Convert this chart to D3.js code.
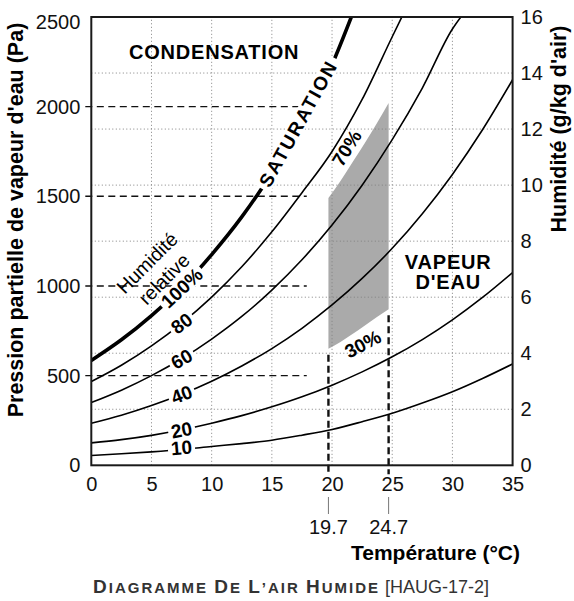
<!DOCTYPE html>
<html>
<head>
<meta charset="utf-8">
<script src="https://cdn.jsdelivr.net/npm/d3@7"></script>
<style>
  body { margin: 0; background: #fff; }
  svg { display: block; font-family: "Liberation Sans", Arial, Helvetica, sans-serif; }
</style>
</head>
<body>
<svg id="chart" width="574" height="601"></svg>
<script>
// Axis ticks
const tempTicks = [0, 5, 10, 15, 20, 25, 30, 35];
const pressTicks = [0, 500, 1000, 1500, 2000, 2500];
const humTicks = [0, 2, 4, 6, 8, 10, 12, 14, 16];
const gridT = [5, 10, 15, 20, 25, 30];
const gridHum = [2, 4, 6, 8, 10, 12, 14];

// Dashed reference levels (Pa), drawn from the axis to ~17.9 °C
const refLevels = [500, 1000, 1500, 2000];
const refEnd = 17.9;

// Relative humidity curves (°C, Pa)
const rh100T = [0, 2.5, 5, 7.5, 10, 12.5, 15, 17.5, 20, 21.6];
const rh100P = [585, 700, 835, 990, 1175, 1385, 1630, 1910, 2235, 2500];
const rh80T = [0, 2.5, 5, 7.5, 10, 12.5, 15, 17.5, 20, 22.5, 25, 25.8];
const rh80P = [467, 558, 666, 792, 938, 1107, 1302, 1520, 1750, 2040, 2390, 2500];
const rh60T = [0, 2.5, 5, 7.5, 10, 12.5, 15, 17.5, 20, 22.5, 25, 27.5, 30, 30.7];
const rh60P = [350, 419, 500, 594, 704, 830, 977, 1146, 1340, 1562, 1816, 2104, 2433, 2500];
const rh40T = [0, 2.5, 5, 7.5, 10, 12.5, 15, 17.5, 20, 22.5, 25, 27.5, 30, 32.5, 35];
const rh40P = [234, 279, 333, 396, 469, 554, 651, 764, 894, 1042, 1210, 1403, 1622, 1871, 2150];
const rh20T = [0, 2.5, 5, 7.5, 10, 12.5, 15, 17.5, 20, 22.5, 25, 27.5, 30, 32.5, 35];
const rh20P = [125, 143, 167, 198, 235, 277, 326, 382, 447, 521, 605, 701, 811, 936, 1075];
const rh10T = [0, 2.5, 5, 7.5, 10, 12.5, 15, 17.5, 20, 22.5, 25, 27.5, 30, 32.5, 35];
const rh10P = [55, 64, 75, 88, 105, 121, 140, 168, 200, 243, 290, 347, 410, 484, 565];
const curveNames = ["100%", "80", "60", "40", "20", "10"];
const labelT = 7.5;

// Comfort zone (grey), between ~30% and ~70%
const zoneT = [19.7, 20.7, 21.7, 22.7, 23.7, 24.7];
const zoneHigh = [1490, 1585, 1690, 1795, 1905, 2020];
const zoneLow = [650, 688, 732, 778, 825, 870];
const markT = [19.7, 24.7];

const font = '"Liberation Sans", Arial, Helvetica, sans-serif';
const svg = d3.select("#chart");

const x = d3.scaleLinear().domain([0, 35]).range([91.3, 512.6]);
const y = d3.scaleLinear().domain([0, 2500]).range([465.3, 17]);
const y2 = d3.scaleLinear().domain([0, 16]).range([465.3, 17]);

svg.append("clipPath").attr("id", "plot")
  .append("rect")
  .attr("x", x(0)).attr("y", y(2500))
  .attr("width", x(35) - x(0)).attr("height", y(0) - y(2500));

// grey zone
const zoneData = zoneT.map((t, i) => ({ t: t, hi: zoneHigh[i], lo: zoneLow[i] }));
svg.append("path")
  .datum(zoneData)
  .attr("fill", "#aaaaaa")
  .attr("d", d3.area().x(d => x(d.t)).y0(d => y(d.lo)).y1(d => y(d.hi)).curve(d3.curveMonotoneX));

// dotted grid
svg.append("g").selectAll("line").data(gridT).join("line")
  .attr("x1", d => x(d)).attr("x2", d => x(d))
  .attr("y1", y(0)).attr("y2", y(2500))
  .attr("stroke", "#808080").attr("stroke-width", 1).attr("stroke-dasharray", "1,2.5");
svg.append("g").selectAll("line").data(gridHum).join("line")
  .attr("x1", x(0)).attr("x2", x(35))
  .attr("y1", d => y2(d)).attr("y2", d => y2(d))
  .attr("stroke", "#808080").attr("stroke-width", 1).attr("stroke-dasharray", "1,2.5");

// dashed reference lines
svg.append("g").selectAll("line").data(refLevels).join("line")
  .attr("x1", x(0) - 6).attr("x2", x(refEnd))
  .attr("y1", d => y(d)).attr("y2", d => y(d))
  .attr("stroke", "#111").attr("stroke-width", 1.4).attr("stroke-dasharray", "7,4.5");

// vertical marks at 19.7 and 24.7
svg.append("g").selectAll("line").data(markT).join("line")
  .attr("x1", d => x(d)).attr("x2", d => x(d))
  .attr("y1", (d, i) => y(i === 0 ? zoneLow[0] : zoneLow[zoneLow.length - 1]) + 6)
  .attr("y2", y(0) + 9)
  .attr("stroke", "#111").attr("stroke-width", 2.4).attr("stroke-dasharray", "7,4");

// curves
const curveT = [rh100T, rh80T, rh60T, rh40T, rh20T, rh10T];
const curveP = [rh100P, rh80P, rh60P, rh40P, rh20P, rh10P];
const line = d3.line().x(d => x(d[0])).y(d => y(d[1])).curve(d3.curveMonotoneX);

const gCurves = svg.append("g").attr("clip-path", "url(#plot)");
curveT.forEach((ts, k) => {
  gCurves.append("path")
    .datum(ts.map((t, i) => [t, curveP[k][i]]))
    .attr("fill", "none")
    .attr("stroke", "#000")
    .attr("stroke-width", k === 0 ? 3.6 : 1.6)
    .attr("d", line);
});

// label on a white patch, rotated
function tag(txt, px, py, angle, opts) {
  const o = Object.assign({ size: 19, weight: "bold", pad: 3, bg: true, ls: 0, dy: 0 }, opts || {});
  const g = svg.append("g").attr("transform", `translate(${px},${py}) rotate(${angle})`);
  const t = g.append("text")
    .attr("text-anchor", "middle")
    .attr("y", o.dy)
    .attr("dy", "0.36em")
    .attr("font-size", o.size)
    .attr("font-weight", o.weight)
    .attr("letter-spacing", o.ls)
    .attr("fill", "#000")
    .text(txt);
  if (o.bg) {
    const bb = t.node().getBBox();
    g.insert("rect", "text")
      .attr("x", bb.x - o.pad).attr("y", bb.y + 2)
      .attr("width", bb.width + 2 * o.pad).attr("height", bb.height - 4)
      .attr("fill", "#fff");
  }
  return g;
}

// curve labels at 7.5 °C, following the slope
curveNames.forEach((name, k) => {
  const ts = curveT[k], ps = curveP[k];
  const i = ts.indexOf(labelT);
  const ang = Math.atan2(y(ps[i + 1]) - y(ps[i - 1]), x(ts[i + 1]) - x(ts[i - 1])) * 180 / Math.PI;
  tag(name, x(ts[i]), y(ps[i]), ang * 0.95, { dy: k === 5 ? -2 : 0 });
});

// SATURATION along the thick curve
{
  const tS = 17.4;
  const pS = d3.interpolateNumber(rh100P[6], rh100P[7])((tS - 15) / 2.5);
  const ang = Math.atan2(y(rh100P[8]) - y(rh100P[6]), x(rh100T[8]) - x(rh100T[6])) * 180 / Math.PI;
  tag("SATURATION", x(tS), y(pS), ang, { ls: 2, dy: -3, pad: 4 });
}

// zone labels
tag("70%", x(21.2), y(1770), -58, { size: 19, bg: false });
tag("30%", x(22.55), y(677), -28, { size: 19, bg: false });

// Humidité relative
tag("Humidité", x(4.62), y(1129), -45, { size: 19.5, weight: "normal", bg: false });
tag("relative", x(6.03), y(1040), -45, { size: 19.5, weight: "normal", bg: false });

// region labels
svg.append("text")
  .attr("x", x(10.2)).attr("y", y(2308)).attr("dy", "0.36em")
  .attr("text-anchor", "middle").attr("font-size", 20).attr("font-weight", "bold")
  .attr("letter-spacing", 0.8).text("CONDENSATION");
svg.append("text")
  .attr("x", x(29.65)).attr("y", y(1136)).attr("dy", "0.36em")
  .attr("text-anchor", "middle").attr("font-size", 20).attr("font-weight", "bold")
  .attr("letter-spacing", 0.8).text("VAPEUR");
svg.append("text")
  .attr("x", x(29.65)).attr("y", y(1136) + 20).attr("dy", "0.36em")
  .attr("text-anchor", "middle").attr("font-size", 20).attr("font-weight", "bold")
  .attr("letter-spacing", 0.8).text("D'EAU");

// frame
svg.append("rect")
  .attr("x", x(0)).attr("y", y(2500))
  .attr("width", x(35) - x(0)).attr("height", y(0) - y(2500))
  .attr("fill", "none").attr("stroke", "#1a1a1a").attr("stroke-width", 2);

// axes
const axL = svg.append("g").attr("transform", `translate(${x(0)},0)`)
  .call(d3.axisLeft(y).tickValues(pressTicks).tickFormat(d3.format("d")).tickSize(0).tickPadding(11));
const axR = svg.append("g").attr("transform", `translate(${x(35)},0)`)
  .call(d3.axisRight(y2).tickValues(humTicks).tickFormat(d3.format("d")).tickSize(0).tickPadding(8));
const axB = svg.append("g").attr("transform", `translate(0,${y(0)})`)
  .call(d3.axisBottom(x).tickValues(tempTicks).tickFormat(d3.format("d")).tickSize(0).tickPadding(12));
[axL, axR, axB].forEach(a => {
  a.select(".domain").remove();
  a.selectAll("text").attr("font-size", 20).attr("fill", "#111").attr("font-family", font);
});
// top label sits a little lower in the original
axL.selectAll(".tick text").filter(d => d === 2500).attr("y", 5);

// marked temperatures below the axis
svg.append("g").selectAll("line").data(markT).join("line")
  .attr("x1", d => x(d)).attr("x2", d => x(d))
  .attr("y1", 497).attr("y2", 514)
  .attr("stroke", "#777").attr("stroke-width", 1);
svg.append("g").selectAll("text").data(markT).join("text")
  .attr("x", d => x(d)).attr("y", 527).attr("dy", "0.36em")
  .attr("text-anchor", "middle").attr("font-size", 20).attr("fill", "#111")
  .text(d => d3.format(".1f")(d));

// axis titles
svg.append("text")
  .attr("transform", "translate(23,220) rotate(-90)")
  .attr("text-anchor", "middle").attr("font-size", 21.5).attr("font-weight", "bold")
  .text("Pression partielle de vapeur d'eau (Pa)");
svg.append("text")
  .attr("transform", "translate(566,129) rotate(-90)")
  .attr("text-anchor", "middle").attr("font-size", 21.5).attr("font-weight", "bold")
  .text("Humidité (g/kg d'air)");
svg.append("text")
  .attr("x", 520).attr("y", 560)
  .attr("text-anchor", "end").attr("font-size", 21).attr("font-weight", "bold")
  .text("Température (°C)");

// caption in small caps
const cap = svg.append("text").attr("x", 93).attr("y", 593).attr("fill", "#333");
[["D", 19], ["IAGRAMME ", 15], ["D", 19], ["E ", 15], ["L", 19], ["’AIR ", 15], ["H", 19], ["UMIDE", 15]]
  .forEach(([s, sz]) => {
    cap.append("tspan").attr("font-size", sz).attr("font-weight", "bold").attr("letter-spacing", 2).text(s);
  });
cap.append("tspan").attr("font-size", 18).attr("font-weight", "normal").text(" [HAUG-17-2]");
</script>
</body>
</html>
